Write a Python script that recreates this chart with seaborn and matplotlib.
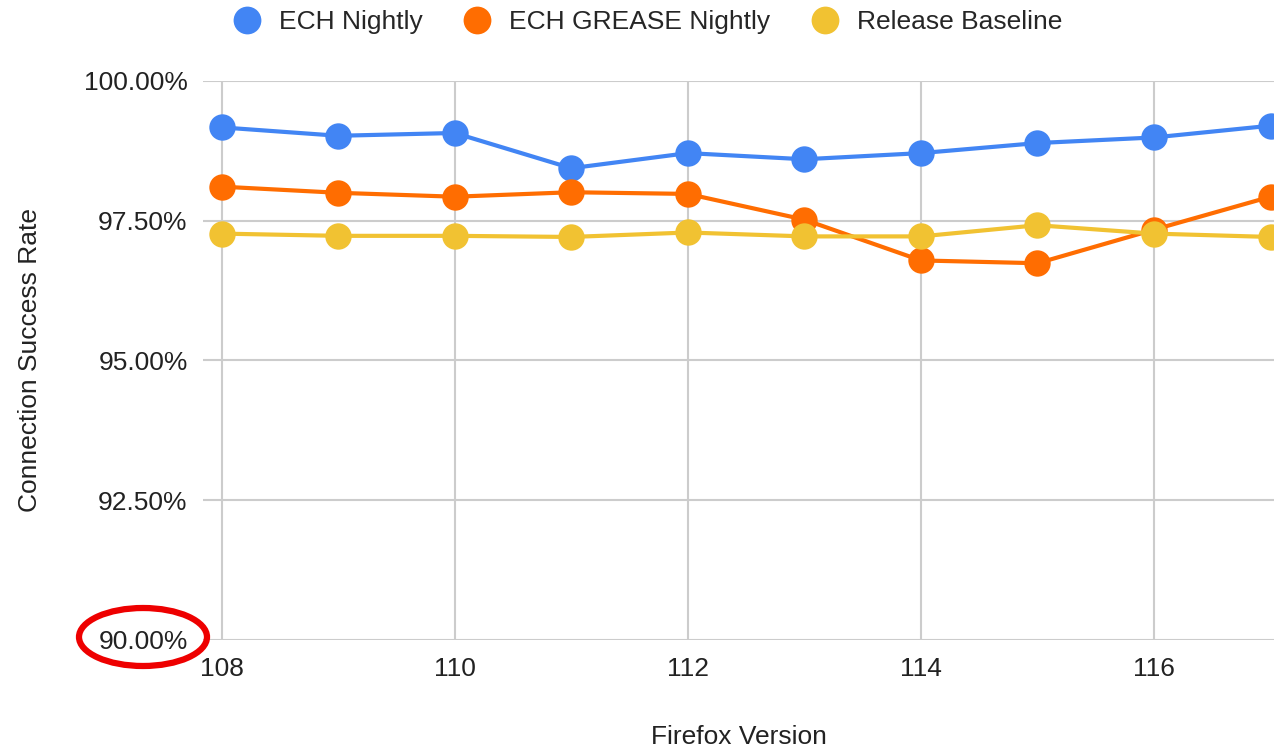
import matplotlib
matplotlib.use("Agg")
import matplotlib.pyplot as plt
import pandas as pd
import seaborn as sns
from matplotlib.lines import Line2D
from matplotlib.patches import Ellipse
from matplotlib.ticker import FuncFormatter

# data
versions = [108, 109, 110, 111, 112, 113, 114, 115, 116, 117]
ech_nightly = [99.17, 99.02, 99.07, 98.44, 98.71, 98.60, 98.71, 98.89, 98.99, 99.20]
ech_grease = [98.11, 98.00, 97.93, 98.01, 97.98, 97.52, 96.79, 96.74, 97.34, 97.93]
release_base = [97.27, 97.23, 97.23, 97.21, 97.29, 97.22, 97.22, 97.42, 97.27, 97.21]
series_names = ["ECH Nightly", "ECH GREASE Nightly", "Release Baseline"]
colors = ["#4285F4", "#FF6D01", "#F1C232"]

df = pd.DataFrame({
    "version": versions * 3,
    "rate": ech_nightly + ech_grease + release_base,
    "series": [series_names[0]] * 10 + [series_names[1]] * 10 + [series_names[2]] * 10,
})

sns.set_style("white")
plt.rcParams["font.family"] = ["Liberation Sans", "DejaVu Sans"]

fig = plt.figure(figsize=(12.74, 7.52), dpi=100)
ax = fig.add_axes([203 / 1274, 1 - 640 / 752, 1 - 203 / 1274, (640 - 81) / 752])

sns.lineplot(data=df, x="version", y="rate", hue="series", palette=colors,
             marker="o", markersize=19, markeredgewidth=0, linewidth=3,
             legend=False, ax=ax)

ax.set_xlim(107.84, 117.03)
ax.set_ylim(90, 100)
ax.set_xticks([108, 110, 112, 114, 116])
ax.set_yticks([90, 92.5, 95, 97.5, 100])
ax.yaxis.set_major_formatter(FuncFormatter(lambda v, p: f"{v:.2f}%"))
ax.grid(True, color="#cccccc", linewidth=1.5)
ax.set_axisbelow(True)
for s in ax.spines.values():
    s.set_visible(False)
ax.tick_params(axis="both", length=0, labelsize=19, colors="#222222")
ax.tick_params(axis="x", pad=12)
ax.tick_params(axis="y", pad=11)
ax.set_xlabel("Firefox Version", fontsize=19, color="#222222", labelpad=32)
ax.set_ylabel("Connection Success Rate", fontsize=19, color="#222222", labelpad=30)

handles = [Line2D([], [], linestyle="none", marker="o", markersize=20,
                  markerfacecolor=c, markeredgewidth=0) for c in colors]
fig.legend(handles, series_names, loc="center", bbox_to_anchor=(648 / 1274, 1 - 22 / 752),
           ncol=3, frameon=False, fontsize=19, handlelength=1.0, handletextpad=0.73,
           columnspacing=1.55, borderpad=0, borderaxespad=0)

# red circle drawn around the 90.00% label
fig.add_artist(Ellipse((143 / 1274, 1 - 637 / 752), 128 / 1274, 58 / 752,
                       transform=fig.transFigure, fill=False, edgecolor="#ee0000", linewidth=4.5))

fig.savefig("out.png", dpi=100)
